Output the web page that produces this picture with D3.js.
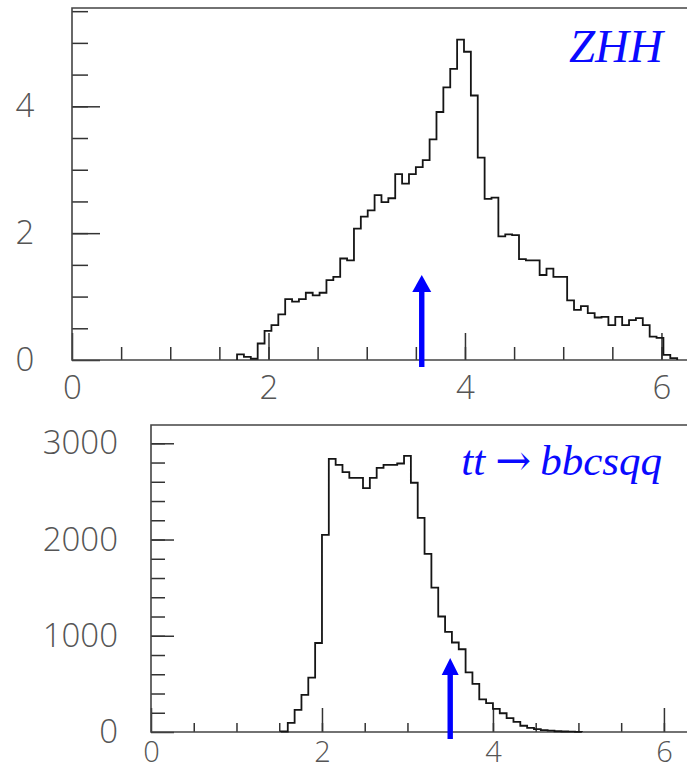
<!doctype html>
<html>
  <head>
    <meta charset="utf-8">
    <title>ZHH vs tt</title>
    <script src="https://cdnjs.cloudflare.com/ajax/libs/d3/7.8.5/d3.min.js"></script>
    <style>
      body { margin: 0; background: #fff; }
      .axis text { font-family: 'Open Sans', 'DejaVu Sans', sans-serif; font-weight: 300; fill: #555; }
      .axis line { stroke: #333; stroke-width: 1.5; }
    </style>
  </head>
  <body>
    <div id="chart"></div>
    <script>
      // Data: histogram bin contents (first bin edge + bin width)
      const zhhStart = 1.68, zhhWidth = 0.07;
      const zhhCounts = [0.09, 0.05, 0.02, 0.26, 0.46, 0.55, 0.72, 0.96, 0.92, 0.96,
                         1.06, 1.02, 1.06, 1.26, 1.31, 1.60, 1.57, 2.07, 2.26, 2.36,
                         2.60, 2.49, 2.55, 2.93, 2.78, 2.93, 3.04, 3.15, 3.48, 3.91,
                         4.30, 4.59, 5.05, 4.86, 4.17, 3.19, 2.54, 2.56, 1.95, 1.98,
                         1.97, 1.59, 1.57, 1.57, 1.34, 1.44, 1.31, 1.31, 0.94, 0.79,
                         0.85, 0.74, 0.67, 0.68, 0.55, 0.68, 0.55, 0.63, 0.66, 0.55,
                         0.37, 0.35, 0.08, 0.03];

      const ttStart = 1.52, ttWidth = 0.08;
      const ttCounts = [5, 94, 229, 385, 564, 925, 2048, 2838, 2775, 2700,
                        2640, 2640, 2535, 2640, 2745, 2775, 2775, 2790, 2870, 2590,
                        2225, 1850, 1500, 1200, 1040, 930, 860, 620, 500, 340,
                        300, 240, 195, 145, 105, 65, 42, 30, 20, 14,
                        8, 5, 3, 2];

      // cut position and arrow tip height, one per panel
      const cutValues = [3.56, 3.5];
      const arrowTops = [1.34, 770];

      const titles = ['ZHH', 'tt \u2192 bbcsqq'];

      // tick labels
      const topXLabels = [0, 2, 4, 6], topYLabels = [0, 2, 4];
      const botXLabels = [0, 2, 4, 6], botYLabels = [0, 1000, 2000, 3000];

      const svg = d3.select('#chart')
        .append('svg')
        .attr('width', 687)
        .attr('height', 773);

      function bins(start, width, counts) {
        return counts.map((v, i) => ({ lo: start + i * width, hi: start + (i + 1) * width, v: v }));
      }

      function drawPanel(p) {
        const x = d3.scaleLinear().domain(p.xDomain).range(p.xRange);
        const y = d3.scaleLinear().domain(p.yDomain).range(p.yRange);
        const g = svg.append('g');

        // minor ticks
        g.append('g').attr('class', 'axis')
          .attr('transform', `translate(0,${p.yRange[0]})`)
          .call(d3.axisBottom(x).tickValues(d3.range(0.5, p.xDomain[1], p.xMinor)).tickSize(-p.xMinorLen).tickFormat(''))
          .call(a => a.select('.domain').remove());
        g.append('g').attr('class', 'axis')
          .attr('transform', `translate(${p.xRange[0]},0)`)
          .call(d3.axisLeft(y).tickValues(d3.range(p.yMinor, p.yDomain[1], p.yMinor)).tickSize(-p.yMinorLen).tickFormat(''))
          .call(a => a.select('.domain').remove());

        // major ticks with labels
        g.append('g').attr('class', 'axis')
          .attr('transform', `translate(0,${p.yRange[0]})`)
          .call(d3.axisBottom(x).tickValues(p.xLabels).tickSize(-p.xMajorLen).tickPadding(p.xPad).tickFormat(d3.format('d')))
          .call(a => a.select('.domain').remove())
          .attr('font-size', p.xFont);
        g.append('g').attr('class', 'axis')
          .attr('transform', `translate(${p.xRange[0]},0)`)
          .call(d3.axisLeft(y).tickValues(p.yLabels).tickSize(-p.yMajorLen).tickPadding(p.yPad).tickFormat(d3.format('d')))
          .call(a => a.select('.domain').remove())
          .call(a => a.selectAll('text').attr('text-anchor', p.yAnchor))
          .attr('font-size', 33);

        // frame
        g.append('path')
          .attr('d', `M${p.xRange[1]},${p.yRange[1]}H${p.xRange[0]}V${p.yRange[0]}H${p.xRange[1]}`)
          .attr('fill', 'none')
          .attr('stroke', '#444')
          .attr('stroke-width', 1.6);

        // histogram outline
        const b = p.bins;
        const pts = [[b[0].lo, 0]].concat(b.map(d => [d.lo, d.v]), [[b[b.length - 1].hi, b[b.length - 1].v], [b[b.length - 1].hi, 0]]);
        g.append('path')
          .attr('d', d3.line().x(d => x(d[0])).y(d => y(d[1])).curve(d3.curveStepAfter)(pts))
          .attr('fill', 'none')
          .attr('stroke', '#151515')
          .attr('stroke-width', 1.8);

        // cut arrow
        const ax = x(p.cut), tip = y(p.arrowTop), base = y(0) + 7;
        g.append('rect')
          .attr('x', ax - 2.7).attr('y', tip + 14)
          .attr('width', 5.4).attr('height', base - tip - 14)
          .attr('fill', '#0000ff');
        g.append('path')
          .attr('d', `M${ax - p.head / 2},${tip + 17}L${ax},${tip}L${ax + p.head / 2},${tip + 17}Z`)
          .attr('fill', '#0000ff');

        // title (arrow glyph set in a font that has a long, thin one)
        const t = g.append('text')
          .attr('x', p.titleX).attr('y', p.titleY)
          .attr('text-anchor', 'end')
          .attr('font-family', "'Liberation Serif', 'Times New Roman', serif")
          .attr('font-style', 'italic')
          .attr('font-size', p.titleSize)
          .attr('fill', '#0a0aff');
        p.title.split(' \u2192 ').forEach((part, i) => {
          if (i > 0) {
            t.append('tspan')
              .attr('font-family', "'DejaVu Serif', serif")
              .attr('font-style', 'normal')
              .attr('font-weight', 200)
              .attr('dx', 10)
              .text('\u2192');
            t.append('tspan').attr('dx', 9).text(part);
          } else {
            t.append('tspan').text(part);
          }
        });
      }

      drawPanel({
        xDomain: [0, 6.26], xRange: [72, 687],
        yDomain: [0, 5.55], yRange: [360, 8],
        xMinor: 0.5, yMinor: 0.5,
        xMinorLen: 13, xMajorLen: 27, yMinorLen: 16, yMajorLen: 28,
        xLabels: topXLabels, yLabels: topYLabels, xPad: 16, xFont: 33, yPad: 47, yAnchor: 'middle',
        bins: bins(zhhStart, zhhWidth, zhhCounts),
        cut: cutValues[0], arrowTop: arrowTops[0], head: 19,
        title: titles[0], titleX: 663, titleY: 62, titleSize: 47
      });

      drawPanel({
        xDomain: [0, 6.27], xRange: [151, 687],
        yDomain: [0, 3190], yRange: [732, 425],
        xMinor: 0.5, yMinor: 200,
        xMinorLen: 9, xMajorLen: 24, yMinorLen: 14, yMajorLen: 23,
        xLabels: botXLabels, yLabels: botYLabels, xPad: 9, xFont: 29, yPad: 33, yAnchor: 'end',
        bins: bins(ttStart, ttWidth, ttCounts),
        cut: cutValues[1], arrowTop: arrowTops[1], head: 17,
        title: titles[1], titleX: 662, titleY: 475, titleSize: 43
      });
    </script>
  </body>
</html>
